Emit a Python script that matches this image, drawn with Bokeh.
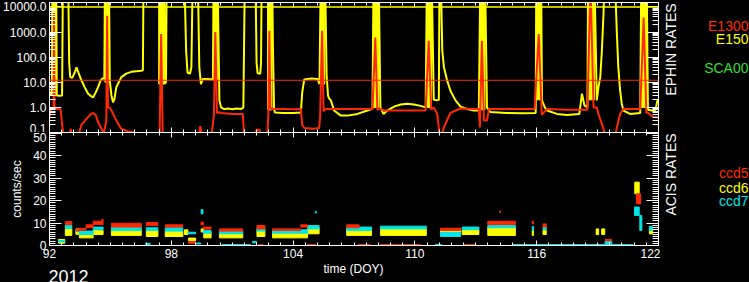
from bokeh.plotting import figure
from bokeh.models import (Range1d, LinearAxis, LogAxis, FixedTicker,
                          PrintfTickFormatter, CustomJSTickFormatter, Span, Label)
from bokeh.layouts import column, row
from bokeh.embed import file_html
from bokeh.resources import INLINE

# ---------------- EPHIN rates (top panel) ----------------
e150_doy = [92.00, 92.06, 92.12, 92.15, 92.33, 92.36, 92.50, 92.62, 92.66, 92.92,
            92.97, 93.02, 93.12, 93.25, 93.33, 93.42, 93.57, 93.75, 93.90, 94.05,
            94.15, 94.28, 94.39, 94.50, 94.60, 94.70, 94.73, 94.93, 94.97, 95.05,
            95.13, 95.20, 95.29, 95.54, 95.78, 96.03, 96.52, 96.60, 96.63, 97.65,
            97.68, 97.74, 97.77, 98.65, 98.73, 98.80, 98.92, 98.99, 99.05, 99.31,
            99.38, 99.46, 99.55, 99.80, 100.05, 100.08, 100.28, 100.37, 100.45, 100.60,
            100.80, 101.00, 101.20, 101.45, 101.55, 101.62, 102.15, 102.20, 102.25, 102.38,
            102.42, 102.45, 102.97, 103.01, 103.06, 103.10, 103.50, 104.00, 104.38, 104.45,
            104.55, 104.90, 105.20, 105.30, 105.36, 105.58, 105.65, 105.72, 105.77, 105.86,
            106.02, 106.35, 106.68, 107.17, 107.66, 107.91, 107.96, 108.22, 108.30, 108.45,
            108.64, 108.97, 109.30, 109.63, 109.95, 110.28, 110.53, 110.59, 110.83, 110.93,
            111.10, 111.18, 111.21, 111.28, 111.35, 111.43, 111.59, 111.75, 112.00, 112.25,
            112.57, 112.90, 113.15, 113.22, 113.46, 113.55, 113.72, 114.50, 115.30, 115.95,
            115.98, 116.22, 116.26, 116.40, 116.51, 117.00, 117.50, 118.10, 118.23, 118.35,
            118.50, 118.53, 118.85, 118.96, 119.04, 119.13, 119.21, 119.29, 119.34, 119.86,
            119.95, 120.02, 120.11, 120.19, 120.27, 120.60, 121.10, 121.15, 121.42, 121.48,
            121.66, 121.85, 121.95, 122.00]
e150_rate = [4.6, 3.2, 3.0, 1e5, 1e5, 3.0, 2.9, 3.0, 1e5, 1e5,
             60, 16, 15, 25, 39, 25, 12, 6, 3.5, 2.8,
             2.5, 4, 6.3, 11, 14, 14, 1e5, 1e5, 11.6, 3.0,
             1.6, 2.2, 6.3, 16, 22, 26, 29, 30, 1e5, 1e5,
             8.5, 10, 1e5, 1e5, 180, 24, 22, 40, 1e5, 1e5,
             40, 8.5, 13.5, 13.5, 13, 1e5, 1e5, 1.9, 1.0, 0.85,
             0.9, 0.85, 0.9, 0.87, 1.0, 1e5, 1e5, 60, 23, 22,
             60, 1e5, 1e5, 180, 1.0, 0.62, 0.6, 0.6, 0.62, 4,
             13, 14, 13.5, 8.5, 1e5, 1e5, 20, 3, 2.3, 1.9,
             0.75, 0.47, 0.47, 0.55, 0.75, 0.87, 1e5, 1e5, 1.0, 0.55,
             0.75, 1.07, 1.3, 1.4, 1.3, 1.15, 1.0, 1e5, 1e5, 2.0,
             1.9, 2.0, 1e5, 1e5, 180, 40, 11.6, 4.6, 1.9, 1.07,
             0.87, 0.75, 0.75, 1e5, 1e5, 1.0, 0.65, 0.6, 0.58, 0.6,
             1e5, 1e5, 1.9, 1.0, 0.75, 0.55, 0.5, 0.55, 3.5, 1.2,
             1.0, 1e5, 1e5, 1.9, 6.3, 15.7, 180, 5100, 1e5, 1e5,
             830, 40, 4.6, 1.4, 0.75, 0.55, 0.6, 1e5, 1e5, 0.8,
             0.75, 0.8, 1.9, 2.0]

e1300_doy = [92.00, 92.06, 92.12, 92.20, 92.22, 92.25, 92.35, 92.50, 92.56, 92.60,
             92.67, 92.75, 92.95, 93.05, 93.10, 93.45, 93.57, 93.75, 93.90, 94.05,
             94.15, 94.28, 94.39, 94.56, 94.68, 94.80, 94.84, 94.88, 94.96, 95.05,
             95.21, 95.38, 95.54, 95.87, 96.19, 96.40, 97.42, 97.50, 97.58, 99.35,
             99.43, 99.50, 100.00, 100.10, 100.17, 100.25, 100.37, 100.45, 101.00, 101.52,
             101.58, 101.63, 102.15, 102.20, 102.35, 102.40, 102.72, 102.78, 102.83, 102.88,
             103.00, 103.50, 104.00, 104.38, 104.45, 104.55, 105.00, 105.28, 105.33, 105.43,
             105.50, 105.61, 106.50, 107.50, 107.91, 108.05, 108.15, 108.30, 108.50, 109.50,
             110.53, 110.68, 110.80, 110.93, 111.10, 111.20, 111.30, 111.43, 111.60, 111.75,
             112.00, 112.25, 112.90, 113.15, 113.20, 113.30, 113.40, 113.55, 113.65, 115.90,
             116.10, 116.25, 116.40, 116.51, 117.50, 118.14, 118.50, 118.65, 118.80, 118.96,
             119.04, 119.21, 119.34, 119.40, 119.85, 119.95, 120.11, 120.27, 121.10, 121.27,
             121.40, 121.45, 121.66, 121.85, 122.00]
e1300_rate = [0.41, 0.75, 0.85, 0.9, 6000, 0.9, 0.87, 0.87, 0.75, 0.3,
              0.1, 0.06, 0.06, 0.14, 0.06, 0.09, 0.2, 0.3, 0.41, 0.55,
              0.6, 0.5, 0.26, 0.14, 0.1, 0.3, 4400, 1.0, 1.0, 0.75,
              0.41, 0.22, 0.14, 0.11, 0.1, 0.06, 0.06, 830, 0.06, 0.06,
              0.18, 0.09, 0.1, 0.5, 1000, 0.6, 0.64, 0.6, 0.55, 0.55,
              0.1, 0.05, 0.05, 0.13, 0.13, 0.05, 0.05, 0.5, 1120, 0.9,
              0.87, 0.87, 0.85, 0.87, 0.2, 0.15, 0.14, 0.15, 0.4, 1120,
              0.7, 0.87, 0.87, 0.87, 0.87, 600, 0.8, 0.87, 0.75, 0.75,
              0.75, 450, 0.8, 1.0, 0.55, 0.1, 0.07, 0.16, 0.33, 0.6,
              0.75, 0.9, 0.87, 0.87, 0.16, 450, 0.3, 0.3, 0.87, 0.87,
              830, 0.5, 0.7, 0.87, 0.8, 0.8, 0.8, 1e5, 1.0, 1.0,
              0.55, 0.22, 0.1, 0.06, 0.06, 0.16, 0.55, 0.87, 0.87, 3800,
              0.6, 0.64, 0.45, 0.41, 0.4]

# saturated E150 passages (radiation belt crossings)
sat_start = [92.13, 94.73, 97.38, 100.08, 102.74, 105.37, 107.97, 110.60, 113.23, 115.98, 118.53, 121.16]
sat_end = [92.34, 94.94, 97.65, 100.28, 102.96, 105.56, 108.21, 110.82, 113.45, 116.21, 118.84, 121.41]
sat_floor = [3.0, 10, 8.5, 12, 0.8, 8.5, 1.0, 1.0, 0.8, 2.0, 2.0, 1.0]
sat_top = 1e5

e150_limit = 10000
e1300_limit = 12

# ---------------- ACIS rates (bottom panel) ----------------
ccd5_start = [92.78, 93.30, 93.47, 93.80, 94.15, 94.58, 95.05, 96.77, 97.70, 98.85,
              99.46, 99.58, 100.37, 102.22, 102.99, 104.38, 106.64, 111.26, 113.59, 114.18,
              115.78, 116.31, 119.37, 120.92, 102.30, 104.70, 107.20, 108.30, 112.40]
ccd5_end = [93.10, 93.47, 93.80, 94.15, 94.64, 94.64, 96.52, 97.34, 98.57, 99.20,
            99.58, 99.96, 101.52, 102.61, 104.38, 104.71, 107.25, 112.25, 114.95, 114.22,
            115.84, 116.47, 119.70, 121.12, 102.50, 105.10, 107.80, 110.30, 113.00]
ccd5_lo = [9.3, 6.5, 6.8, 8.0, 9.3, 10.8, 8.2, 8.8, 8.2, 1.0,
           9.2, 7.3, 6.4, 7.4, 6.7, 8.2, 7.9, 6.7, 9.3, 14.6,
           9.6, 8.2, 2.1, 18.6, 0, 0, 0, 0, 0]
ccd5_hi = [10.6, 7.2, 7.6, 9.2, 10.8, 11.6, 9.9, 10.2, 9.2, 1.8,
           10.4, 8.2, 7.4, 8.9, 7.4, 9.2, 9.2, 7.7, 10.8, 15.4,
           10.8, 9.6, 2.7, 23.0, 0.4, 0.4, 0.4, 0.4, 0.4]

ccd6_start = [92.45, 92.78, 93.30, 93.47, 94.15, 95.05, 96.77, 97.70, 98.65, 98.85,
              99.47, 99.60, 100.37, 102.22, 102.99, 104.71, 106.64, 108.31, 111.26, 112.33,
              113.59, 115.78, 116.31, 118.93, 119.20, 120.83, 121.55]
ccd6_end = [92.75, 93.10, 93.47, 94.15, 94.64, 96.52, 97.34, 98.57, 98.82, 99.20,
            99.60, 99.96, 101.52, 102.61, 104.71, 105.28, 107.86, 110.56, 112.25, 113.15,
            114.95, 115.84, 116.47, 119.05, 119.35, 121.05, 121.71]
ccd6_lo = [1.0, 4.5, 5.0, 3.4, 4.9, 4.5, 4.0, 4.0, 4.9, 2.2,
           6.0, 3.4, 3.4, 4.0, 3.4, 5.2, 4.5, 4.5, 5.9, 4.9,
           4.5, 4.5, 4.9, 4.9, 4.9, 23.0, 5.2]
ccd6_hi = [2.7, 7.4, 7.4, 5.2, 6.7, 7.0, 6.7, 6.4, 7.0, 3.3,
           7.4, 5.9, 5.2, 6.7, 5.9, 7.9, 7.0, 7.4, 7.1, 7.0,
           7.9, 6.7, 6.7, 7.4, 7.4, 28.2, 7.4]

ccd7_start = [92.45, 92.78, 93.30, 93.47, 94.15, 95.05, 96.73, 96.77, 97.70, 98.82,
              99.20, 99.47, 99.58, 100.37, 100.50, 101.40, 102.00, 102.22, 102.99, 104.71,
              105.10, 106.64, 108.31, 111.00, 111.26, 112.33, 113.59, 114.85, 115.78, 116.31,
              119.37, 120.82, 121.08, 121.55]
ccd7_end = [92.75, 93.10, 93.47, 94.15, 94.64, 96.52, 96.96, 97.34, 98.57, 99.20,
            99.45, 99.56, 99.96, 101.52, 101.60, 101.90, 102.20, 102.61, 104.71, 105.28,
            105.14, 107.86, 110.56, 111.30, 112.25, 113.15, 114.95, 120.75, 115.84, 116.47,
            119.70, 121.05, 121.18, 121.71]
ccd7_lo = [1.6, 7.5, 6.2, 4.9, 7.0, 6.7, 0.5, 6.7, 6.4, 5.2,
           0.7, 14.1, 5.5, 5.2, 0, 0, 1.2, 6.4, 5.5, 7.4,
           14.4, 6.7, 7.4, 0, 4.0, 7.0, 7.9, 0, 6.7, 7.0,
           0.7, 13.4, 6.7, 6.7]
ccd7_hi = [2.2, 9.0, 6.8, 6.4, 8.2, 8.3, 1.0, 7.9, 7.9, 5.9,
           1.1, 16.0, 6.7, 6.4, 0.4, 0.4, 1.8, 7.9, 7.0, 8.9,
           15.2, 8.2, 8.6, 0.4, 5.9, 8.2, 8.9, 0.4, 8.5, 8.2,
           1.8, 17.1, 13.4, 8.5]

# axis ticks
x_major = [92, 98, 104, 110, 116, 122]
x_minor = [round(92 + 0.6 * k, 2) for k in range(51)]
log_major = [0.1, 1, 10, 100, 1000, 10000]
log_minor = [m * d for d in log_major for m in range(2, 10)]
lin_major = [0, 10, 20, 30, 40, 50]
lin_minor = list(range(0, 51))

RED = "#ff2800"
YEL = "#ffff00"
CYAN = "#00e6e6"
GREEN = "#33dd33"
FONT = "Liberation Sans"
BLACK_BG = {"background-color": "black"}


def style_axis(ax, tin, tmin, labels=True, standoff=3):
    ax.axis_line_color = "white"
    ax.major_tick_line_color = "white"
    ax.minor_tick_line_color = "white"
    ax.major_tick_in = tin
    ax.major_tick_out = 0
    ax.minor_tick_in = tmin
    ax.minor_tick_out = 0
    ax.major_label_text_color = "white"
    ax.major_label_text_font = FONT
    ax.major_label_text_font_size = "12px"
    if labels:
        ax.major_label_standoff = standoff
    else:
        ax.formatter = CustomJSTickFormatter(code="return ''")
        ax.major_label_standoff = 0
    return ax


def add_label(p, x, y, text, color, size, align="left", baseline="middle", angle=0):
    p.add_layout(Label(x=x, y=y, x_units="screen", y_units="screen", text=text,
                       text_color=color, text_font=FONT, text_font_size=size,
                       text_align=align, text_baseline=baseline,
                       angle=angle, angle_units="deg"))


def text_strip(w, h):
    s = figure(width=w, height=h, x_range=Range1d(0, w), y_range=Range1d(0, h),
               x_axis_location=None, y_axis_location=None,
               output_backend="svg", toolbar_location=None,
               min_border_left=0, min_border_right=0, min_border_top=0, min_border_bottom=0,
               background_fill_color="black", border_fill_color="black",
               outline_line_color=None, styles=BLACK_BG)
    s.xgrid.visible = False
    s.ygrid.visible = False
    return s


# ---------- top panel ----------
p1 = figure(width=660, height=132, x_range=Range1d(92, 122), y_range=Range1d(0.1, 15000),
            y_axis_type="log", x_axis_location=None, y_axis_location=None,
            output_backend="svg", toolbar_location=None,
            min_border_left=48, min_border_right=2, min_border_top=2, min_border_bottom=0,
            background_fill_color="black", border_fill_color="black",
            outline_line_color=None, styles=BLACK_BG)
p1.xgrid.visible = False
p1.ygrid.visible = False

lt = FixedTicker(ticks=log_major, minor_ticks=log_minor)
xt = FixedTicker(ticks=x_major, minor_ticks=x_minor)
p1.add_layout(style_axis(LogAxis(ticker=lt, formatter=PrintfTickFormatter(format="%.1f")), 12, 6), "left")
p1.add_layout(style_axis(LogAxis(ticker=lt), 12, 6, labels=False), "right")
p1.add_layout(style_axis(LinearAxis(ticker=xt), 5, 3, labels=False), "above")
p1.add_layout(style_axis(LinearAxis(ticker=xt), 5, 3, labels=False), "below")

p1.quad(left=sat_start, right=sat_end, bottom=sat_floor, top=[sat_top] * len(sat_start),
        fill_color=YEL, line_color=YEL)
p1.line(e150_doy, e150_rate, line_color=YEL, line_width=2)
p1.line(e1300_doy, e1300_rate, line_color=RED, line_width=2)
p1.add_layout(Span(location=e150_limit, dimension="width", line_color=YEL, line_width=1.5))
p1.add_layout(Span(location=e1300_limit, dimension="width", line_color=RED, line_width=1))

# ---------- bottom panel ----------
p2 = figure(width=660, height=130, x_range=Range1d(92, 122), y_range=Range1d(0, 50.3),
            x_axis_location=None, y_axis_location=None,
            output_backend="svg", toolbar_location=None,
            min_border_left=48, min_border_right=2, min_border_top=0, min_border_bottom=17,
            background_fill_color="black", border_fill_color="black",
            outline_line_color=None, styles=BLACK_BG)
p2.xgrid.visible = False
p2.ygrid.visible = False

yt = FixedTicker(ticks=lin_major, minor_ticks=lin_minor)
yl = style_axis(LinearAxis(ticker=yt), 12, 6)
yl.axis_label = "counts/sec"
yl.axis_label_text_color = "white"
yl.axis_label_text_font = FONT
yl.axis_label_text_font_size = "12px"
yl.axis_label_text_font_style = "normal"
yl.axis_label_standoff = 6
p2.add_layout(yl, "left")
p2.add_layout(style_axis(LinearAxis(ticker=yt), 12, 6, labels=False), "right")
p2.add_layout(style_axis(LinearAxis(ticker=xt), 5, 3, labels=False), "above")
p2.add_layout(style_axis(LinearAxis(ticker=xt), 5, 3, standoff=3), "below")

p2.quad(left=ccd6_start, right=ccd6_end, bottom=ccd6_lo, top=ccd6_hi, fill_color=YEL, line_color=YEL)
p2.quad(left=ccd7_start, right=ccd7_end, bottom=ccd7_lo, top=ccd7_hi, fill_color=CYAN, line_color=CYAN)
p2.quad(left=ccd5_start, right=ccd5_end, bottom=ccd5_lo, top=ccd5_hi, fill_color=RED, line_color=RED)

# ---------- right-hand captions ----------
r = text_strip(89, 262)
add_label(r, 10.5, 213, "EPHIN RATES", "white", "14px", "center", "middle", 90)
add_label(r, 88, 236.5, "E1300", RED, "14px", "right")
add_label(r, 88, 223.5, "E150", YEL, "14px", "right")
add_label(r, 88, 195, "SCA00", GREEN, "14px", "right")
add_label(r, 10.5, 88, "ACIS RATES", "white", "14px", "center", "middle", 90)
add_label(r, 88, 90, "ccd5", RED, "14px", "right")
add_label(r, 88, 75, "ccd6", YEL, "14px", "right")
add_label(r, 88, 61.5, "ccd7", CYAN, "14px", "right")

# ---------- bottom captions ----------
b = text_strip(749, 20)
add_label(b, 353, 14, "time (DOY)", "white", "12px", "center", "middle")
add_label(b, 48, 13, "2012", "white", "18px", "left", "top")

left_col = column(p1, p2, spacing=0, styles=BLACK_BG)
top_row = row(left_col, r, spacing=0, styles=BLACK_BG)
layout = column(top_row, b, spacing=0, styles=BLACK_BG)
open("out.html", "w").write(file_html(layout, INLINE))
